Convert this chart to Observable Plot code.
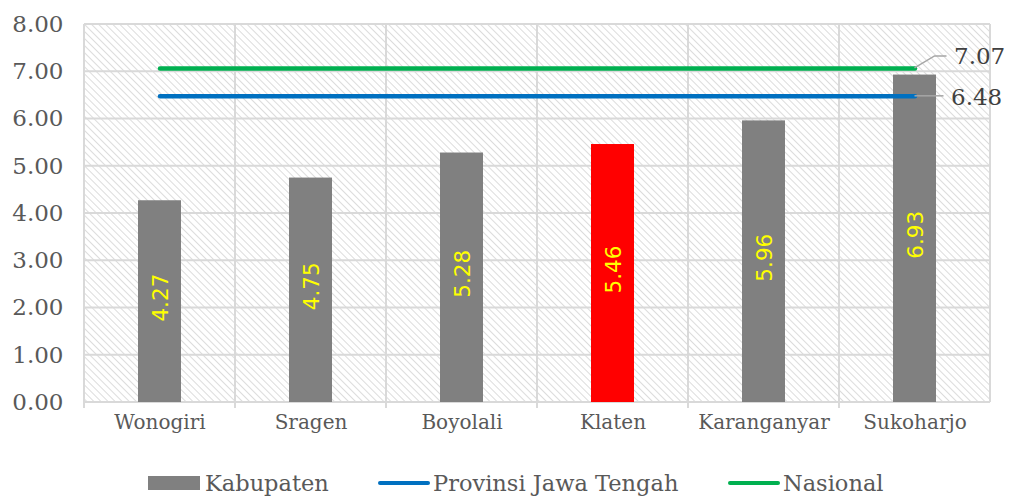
<!DOCTYPE html>
<html>
<head>
<meta charset="utf-8">
<script src="https://cdn.jsdelivr.net/npm/d3@7"></script>
<script src="https://cdn.jsdelivr.net/npm/@observablehq/plot@0.6"></script>
<style>
  html, body { margin: 0; padding: 0; background: #fff; }
  #wrap { position: relative; width: 1011px; height: 497px; overflow: hidden; }
  #legend { position: absolute; left: 0; top: 470px; width: 1011px; height: 26px;
            font-family: "DejaVu Serif", serif; font-size: 22.5px; color: #595959; line-height: 26px; }
  .item { position: absolute; top: 0; display: flex; align-items: center; height: 26px; white-space: nowrap; }
  .sw-rect { width: 52px; height: 14px; background: #808080; margin-right: 5px; }
  .sw-line { width: 52px; height: 4px; border-radius: 2px; margin-right: 3px; }
</style>
</head>
<body>
<div id="wrap">
  <div id="chart"></div>
  <div id="legend"></div>
</div>
<script>
const categories = ["Wonogiri", "Sragen", "Boyolali", "Klaten", "Karanganyar", "Sukoharjo"];
const values = [4.27, 4.75, 5.28, 5.46, 5.96, 6.93];
const highlight = "Klaten";
const provinsi = 6.48;
const nasional = 7.07;
const yTicks = [0, 1, 2, 3, 4, 5, 6, 7, 8];
const seriesNames = ["Kabupaten", "Provinsi Jawa Tengah", "Nasional"];

const colors = { bar: "#808080", hi: "#FF0000", prov: "#0070C0", nas: "#00B050" };
const textColor = "#595959";
const gridColor = "#D9D9D9";

const bars = categories.map((c, i) => ({ cat: c, value: values[i] }));
const refs = [
  { name: seriesNames[1], value: provinsi, color: colors.prov },
  { name: seriesNames[2], value: nasional, color: colors.nas }
];

// Background: hatch pattern, grid and frame (uses the plot's scales/dimensions)
function background(index, scales, values, dims) {
  const { width, height, marginLeft, marginRight, marginTop, marginBottom } = dims;
  const x0 = marginLeft, x1 = width - marginRight, y0 = marginTop, y1 = height - marginBottom;
  const g = d3.create("svg:g");
  const defs = g.append("defs");
  const pat = defs.append("pattern").attr("id", "hatch").attr("patternUnits", "userSpaceOnUse")
    .attr("width", 5).attr("height", 5).attr("patternTransform", "rotate(45)");
  pat.append("rect").attr("width", 5).attr("height", 5).attr("fill", "#fff");
  pat.append("line").attr("x1", 0).attr("x2", 5).attr("y1", 2.5).attr("y2", 2.5)
    .attr("stroke", "#DCDCDC").attr("stroke-width", 1);
  g.append("rect").attr("x", x0).attr("y", y0).attr("width", x1 - x0).attr("height", y1 - y0)
    .attr("fill", "url(#hatch)");
  const y = scales.y;
  for (const t of yTicks) {
    g.append("line").attr("x1", x0).attr("x2", x1).attr("y1", y(t)).attr("y2", y(t))
      .attr("stroke", gridColor).attr("stroke-width", 2);
  }
  const n = categories.length, step = (x1 - x0) / n;
  for (let k = 0; k <= n; k++) {
    const xx = x0 + k * step;
    g.append("line").attr("x1", xx).attr("x2", xx).attr("y1", y0).attr("y2", y1 + (k < n ? 6 : 0))
      .attr("stroke", gridColor).attr("stroke-width", 2);
  }
  return g.node();
}

// Leader lines for the end labels
function leaders(index, scales, values, dims) {
  const { width, marginLeft, marginRight } = dims;
  const n = categories.length, step = (width - marginRight - marginLeft) / n;
  const xe = marginLeft + step * (n - 0.5);
  const y = scales.y;
  const g = d3.create("svg:g").attr("stroke", "#A6A6A6").attr("stroke-width", 1.5).attr("fill", "none");
  g.append("path").attr("d", `M${xe},${y(nasional)} L${xe + 20},${y(nasional) - 12} L${xe + 32},${y(nasional) - 12}`);
  g.append("path").attr("d", `M${xe},${y(provinsi)} L${xe + 29},${y(provinsi)}`);
  return g.node();
}

const chart = Plot.plot({
  width: 1011,
  height: 452,
  marginLeft: 84,
  marginRight: 21,
  marginTop: 24,
  marginBottom: 50,
  style: { background: "transparent", overflow: "visible" },
  x: { domain: categories, paddingInner: 0.715, paddingOuter: 0.3575, axis: null },
  y: { domain: [0, 8], axis: null },
  marks: [
    background,
    Plot.barY(bars, { x: "cat", y: "value", fill: d => d.cat === highlight ? colors.hi : colors.bar }),
    Plot.text(bars, {
      x: "cat", y: d => d.value / 2, text: d => d.value.toFixed(2), rotate: -90,
      fill: "#FFFF00", fontSize: 21.5, fontFamily: "DejaVu Sans, sans-serif", dx: 1, dy: -4
    }),
    ...refs.map(r => Plot.lineY(categories, {
      x: d => d, y: () => r.value, stroke: r.color, strokeWidth: 4.5, strokeLinecap: "round"
    })),
    leaders,
    Plot.text([nasional], {
      x: () => categories[categories.length - 1], y: d => d, text: d => d.toFixed(2),
      textAnchor: "start", dx: 39, dy: -12, fontSize: 23, fill: "#404040", fontFamily: "DejaVu Serif, serif"
    }),
    Plot.text([provinsi], {
      x: () => categories[categories.length - 1], y: d => d, text: d => d.toFixed(2),
      textAnchor: "start", dx: 36, dy: 1, fontSize: 23, fill: "#404040", fontFamily: "DejaVu Serif, serif"
    }),
    Plot.text(yTicks, {
      y: d => d, frameAnchor: "left", text: d => d.toFixed(2), textAnchor: "end",
      dx: -21, fontSize: 23, fill: textColor, fontFamily: "DejaVu Serif, serif"
    }),
    Plot.text(categories, {
      x: d => d, frameAnchor: "bottom", text: d => d, dy: 26, fontSize: 20,
      fill: textColor, fontFamily: "DejaVu Serif, serif"
    })
  ]
});
document.getElementById("chart").appendChild(chart);

// Legend
const legend = document.getElementById("legend");
const items = [
  { name: seriesNames[0], type: "rect", color: colors.bar, left: 148 },
  { name: seriesNames[1], type: "line", color: colors.prov, left: 378 },
  { name: seriesNames[2], type: "line", color: colors.nas, left: 728 }
];
for (const it of items) {
  const d = document.createElement("div");
  d.className = "item";
  d.style.left = it.left + "px";
  const sw = document.createElement("span");
  sw.className = it.type === "rect" ? "sw-rect" : "sw-line";
  sw.style.background = it.color;
  const t = document.createElement("span");
  t.textContent = it.name;
  d.appendChild(sw);
  d.appendChild(t);
  legend.appendChild(d);
}
</script>
</body>
</html>
